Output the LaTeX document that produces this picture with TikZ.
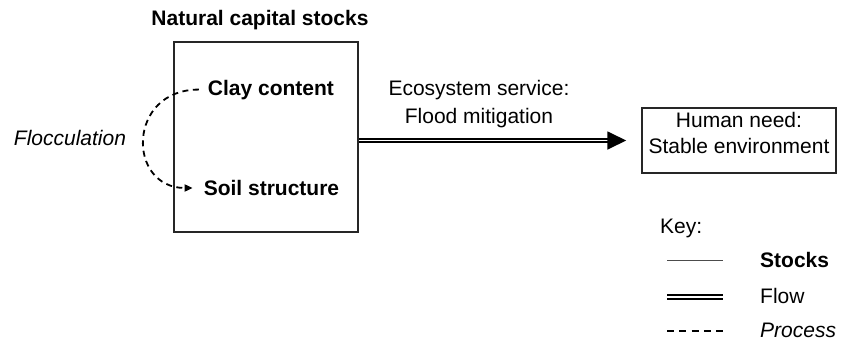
\documentclass[tikz,border=0pt]{standalone}
\usepackage{fontspec}
\setmainfont{Liberation Sans}
\usetikzlibrary{arrows.meta}
\begin{document}
\begin{tikzpicture}[x=1pt,y=-1pt,
  every node/.style={inner sep=0pt, font=\fontsize{21}{26}\selectfont},
  lbl/.style={anchor=base},
  lblw/.style={anchor=base west},
  stockbox/.style={draw=black!85, line width=1.5pt},
  stockline/.style={draw=black!70, line width=1pt},
  flowline/.style={draw=black, line width=1.8pt, double=white, double distance=1.8pt},
  processline/.style={draw=black, line width=1.8pt, dash pattern=on 6pt off 4.5pt},
  keydash/.style={draw=black, line width=1.6pt, dash pattern=on 7pt off 5.3pt}]
\useasboundingbox (0,0) rectangle (841,346);

% Natural capital stocks box
\node[lbl, font=\fontsize{21}{26}\selectfont\bfseries] (title) at (260,25) {Natural capital stocks};
\node[stockbox, minimum width=184pt, minimum height=190pt] (box) at (266,137) {};
\node[lbl, font=\fontsize{21}{26}\selectfont\bfseries] (clay) at (271,95) {Clay content};
\node[lbl, font=\fontsize{21}{26}\selectfont\bfseries] (soil) at (271.5,195.5) {Soil structure};
\node[lbl, font=\fontsize{21}{26}\selectfont\itshape] (floc) at (70,145) {Flocculation};

\draw[processline, -{Triangle[length=8pt,width=7pt]}]
  ([xshift=-9pt]clay.west) .. controls +(-72,0) and +(-66,0) .. ([xshift=-11pt]soil.west);

% Ecosystem service
\node[lbl] (eco1) at (479,95) {Ecosystem service:};
\node[lbl] (eco2) at (479,123) {Flood mitigation};

% Human need box
\node[stockbox, minimum width=194pt, minimum height=65pt] (human) at (739,140.5) {};
\node[lbl] (hn1) at (739,127) {Human need:};
\node[lbl] (hn2) at (739,153) {Stable environment};

\draw[flowline, -{Triangle[length=19pt,width=18pt]}]
  (box.east |- human.west) -- ([xshift=-15pt]human.west);

% Key
\node[lblw] (key) at (660,233) {Key:};
\coordinate (s1) at (667,260); \coordinate (s2) at (723,260);
\coordinate (f1) at (667,297); \coordinate (f2) at (723,297);
\coordinate (p1) at (667,331); \coordinate (p2) at (723,331);
\draw[stockline] (s1) -- (s2);
\draw[flowline] (f1) -- (f2);
\draw[keydash] (p1) -- (p2);
\node[lblw, font=\fontsize{21}{26}\selectfont\bfseries] (kstocks) at (760,267) {Stocks};
\node[lblw] (kflow) at (760,303) {Flow};
\node[lblw, font=\fontsize{21}{26}\selectfont\itshape] (kproc) at (760,337) {Process};
\end{tikzpicture}
\end{document}
